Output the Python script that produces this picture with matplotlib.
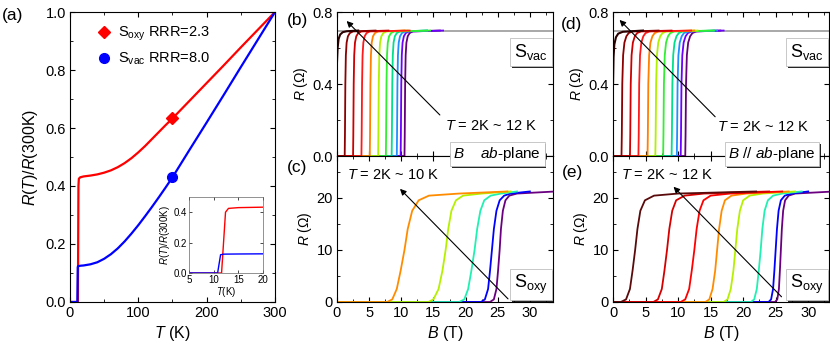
import matplotlib
matplotlib.use("Agg")
import matplotlib.pyplot as plt
import matplotlib.patheffects as pe
from matplotlib.lines import Line2D
from matplotlib.ticker import MultipleLocator, FormatStrFormatter

plt.rcParams['font.family'] = ['Liberation Sans', 'DejaVu Sans']
plt.rcParams['mathtext.fontset'] = 'custom'
plt.rcParams['mathtext.rm'] = 'Liberation Sans'
plt.rcParams['mathtext.it'] = 'Liberation Sans:italic'
plt.rcParams['axes.linewidth'] = 0.8

# ---------------- panel (a): R(T)/R(300K) ----------------
T_oxy = [0, 11.6, 12.0, 12.4, 13.0, 15, 20, 30, 40, 50, 60, 70, 80, 90, 100,
         110, 120, 130, 140, 150, 175, 200, 225, 250, 275, 300]
R_oxy = [0, 0, 0.20, 0.40, 0.425, 0.430, 0.433, 0.436, 0.440, 0.446, 0.454, 0.465,
         0.479, 0.496, 0.516, 0.538, 0.562, 0.586, 0.610, 0.633, 0.694, 0.755,
         0.816, 0.878, 0.939, 1.0]
T_vac = [0, 10.8, 11.1, 11.4, 12, 15, 20, 30, 40, 50, 60, 70, 80, 90, 100, 110,
         120, 130, 140, 150, 175, 200, 225, 250, 275, 300]
R_vac = [0, 0, 0.06, 0.12, 0.124, 0.125, 0.126, 0.130, 0.137, 0.149, 0.165, 0.185,
         0.209, 0.236, 0.265, 0.296, 0.328, 0.361, 0.395, 0.430, 0.525, 0.619,
         0.714, 0.810, 0.905, 1.0]
mark_T = 150
mark_oxy = 0.633
mark_vac = 0.430

# ---------------- panel (b): S_vac, B perp ab ----------------
b_colors = ['#2a0000', '#8b0000', '#cc0000', '#ff1a1a', '#ff8000', '#b0f000',
            '#33ee33', '#00e08a', '#1e90ff', '#6a00ff', '#660077']
b_2K_B = [0, 0.1, 0.25, 0.5, 0.9, 1.5, 3.3]
b_2K_R = [0.52, 0.60, 0.65, 0.675, 0.688, 0.693, 0.697]
b_levels = [0, 0, 0.12, 0.40, 0.56, 0.63, 0.665, 0.683, 0.692, 0.697]
b_B = [
    [0, 1.2, 1.24, 1.3, 1.38, 1.5, 1.7, 2.0, 2.5, 6.0],
    [0, 2.5, 2.54, 2.6, 2.68, 2.8, 3.0, 3.3, 3.8, 8.0],
    [0, 3.8, 3.84, 3.9, 3.98, 4.1, 4.3, 4.6, 5.1, 11.3],
    [0, 5.1, 5.14, 5.2, 5.28, 5.4, 5.6, 5.9, 6.4, 10.5],
    [0, 6.4, 6.44, 6.5, 6.58, 6.7, 6.9, 7.2, 7.7, 11.0],
    [0, 7.6, 7.64, 7.7, 7.78, 7.9, 8.1, 8.4, 8.9, 14.5],
    [0, 8.5, 8.54, 8.6, 8.68, 8.8, 9.0, 9.3, 9.8, 14.0],
    [0, 9.3, 9.34, 9.4, 9.48, 9.6, 9.8, 10.1, 10.6, 14.0],
    [0, 9.9, 9.94, 10.0, 10.08, 10.2, 10.4, 10.7, 11.2, 16.5],
    [0, 10.5, 10.54, 10.6, 10.68, 10.8, 11.0, 11.3, 11.8, 16.0],
]
normal_B = [0, 34]
normal_R = [0.697, 0.697]

# ---------------- panel (d): S_vac, B // ab ----------------
d_2K_B = [0, 0.08, 0.2, 0.45, 0.8, 1.5, 4.6]
d_2K_R = [0.40, 0.55, 0.62, 0.66, 0.68, 0.69, 0.697]
d_B = [
    [0, 1.3, 1.35, 1.42, 1.55, 1.75, 2.05, 2.4, 3.0, 7.0],
    [0, 2.6, 2.65, 2.72, 2.85, 3.05, 3.35, 3.7, 4.3, 9.0],
    [0, 3.9, 3.95, 4.02, 4.15, 4.35, 4.65, 5.0, 5.6, 12.0],
    [0, 5.3, 5.35, 5.42, 5.55, 5.75, 6.05, 6.4, 7.0, 12.5],
    [0, 6.5, 6.55, 6.62, 6.75, 6.95, 7.25, 7.6, 8.2, 13.0],
    [0, 7.7, 7.75, 7.82, 7.95, 8.15, 8.45, 8.8, 9.4, 15.5],
    [0, 9.0, 9.05, 9.12, 9.25, 9.45, 9.75, 10.1, 10.7, 15.5],
    [0, 9.8, 9.85, 9.92, 10.05, 10.25, 10.55, 10.9, 11.5, 16.0],
    [0, 10.4, 10.45, 10.52, 10.65, 10.85, 11.15, 11.5, 12.1, 17.0],
    [0, 11.1, 11.15, 11.22, 11.35, 11.55, 11.85, 12.2, 12.8, 16.5],
]

# ---------------- panel (c): S_oxy, B perp ab ----------------
c_colors = ['#ff8c00', '#b5f000', '#20f0b0', '#0000ff', '#6a0080']
c_levels = [0, 0, 0.5, 2.5, 6, 10, 14, 17.5, 19.5, 20.4, 20.8, 21.2]
c_B = [
    [0, 7.8, 8.6, 9.3, 9.9, 10.5, 11.0, 11.7, 12.7, 14.3, 19.0, 26.5],
    [0, 14.2, 15.0, 15.8, 16.4, 16.9, 17.3, 17.8, 18.5, 19.6, 22.5, 27.0],
    [0, 19.0, 19.8, 20.4, 20.9, 21.4, 21.8, 22.3, 22.9, 23.9, 25.5, 28.0],
    [0, 22.4, 23.0, 23.5, 23.8, 24.1, 24.4, 24.8, 25.3, 26.0, 27.0, 30.0],
    [0, 23.8, 24.4, 24.8, 25.05, 25.3, 25.5, 25.8, 26.2, 26.8, 28.0, 34.0],
]

# ---------------- panel (e): S_oxy, B // ab ----------------
e_colors = ['#5a0a0a', '#d40000', '#ff0000', '#ff8c00', '#b5f000', '#20f0b0',
            '#0000ff', '#6a0080']
e_B = [
    [0, 1.2, 2.0, 2.6, 3.0, 3.4, 3.75, 4.2, 4.9, 6.3, 10.0, 22.0],
    [0, 6.2, 6.9, 7.5, 7.9, 8.3, 8.65, 9.1, 9.7, 11.0, 14.0, 24.0],
    [0, 10.4, 11.1, 11.7, 12.1, 12.5, 12.85, 13.3, 13.9, 15.0, 18.0, 26.0],
    [0, 14.2, 14.8, 15.3, 15.7, 16.0, 16.3, 16.7, 17.2, 18.2, 20.5, 27.0],
    [0, 17.0, 17.6, 18.1, 18.5, 18.8, 19.1, 19.5, 20.0, 21.0, 23.0, 28.0],
    [0, 21.2, 21.7, 22.1, 22.4, 22.7, 22.95, 23.3, 23.8, 24.6, 26.0, 29.0],
    [0, 23.9, 24.3, 24.6, 24.8, 25.0, 25.2, 25.45, 25.8, 26.4, 27.5, 30.0],
    [0, 24.9, 25.25, 25.5, 25.65, 25.8, 25.95, 26.15, 26.45, 27.0, 28.0, 34.0],
]

# arrows (tail, head) in data units
b_arrow = [(16.0, 0.228), (1.5, 0.75)]
d_arrow = [(15.7, 0.218), (1.0, 0.756)]
c_arrow = [(26.6, 0.6), (9.8, 21.7)]
e_arrow = [(25.9, 1.0), (9.3, 22.1)]


def style(ax):
    ax.tick_params(direction='in', top=True, right=True, labelsize=10.5,
                   length=3.5, width=0.8, pad=3)
    ax.tick_params(which='minor', direction='in', top=True, right=True,
                   length=2, width=0.6)


def boxed(ax, x, y, s, trans=None, size=11, **kw):
    t = ax.text(x, y, s, transform=trans if trans is not None else ax.transAxes,
                fontsize=size, zorder=10,
                bbox=dict(boxstyle='square,pad=0.22', fc='white', ec='0.75', lw=0.6),
                **kw)
    t.get_bbox_patch().set_path_effects(
        [pe.withSimplePatchShadow(offset=(1.3, -1.3), shadow_rgbFace='k', alpha=0.85)])
    return t


def arrow(ax, ar):
    ax.annotate('', xy=ar[1], xytext=ar[0],
                arrowprops=dict(arrowstyle='-|>', color='k', lw=0.8,
                                mutation_scale=9, shrinkA=0, shrinkB=0))


fig = plt.figure(figsize=(8.3, 3.47), dpi=100)

# ---- (a)
ax = fig.add_axes([0.0843, 0.1297, 0.247, 0.8357])
ax.plot(T_oxy, R_oxy, color='red', lw=1.6)
ax.plot(T_vac, R_vac, color='blue', lw=1.6)
ax.plot([mark_T], [mark_oxy], 'D', color='red', ms=6)
ax.plot([mark_T], [mark_vac], 'o', color='blue', ms=7)
ax.set_xlim(0, 300)
ax.set_ylim(0, 1.0)
ax.xaxis.set_major_locator(MultipleLocator(100))
ax.xaxis.set_minor_locator(MultipleLocator(50))
ax.yaxis.set_major_locator(MultipleLocator(0.2))
ax.yaxis.set_minor_locator(MultipleLocator(0.1))
ax.yaxis.set_major_formatter(FormatStrFormatter('%.1f'))
style(ax)
ax.set_xlabel(r'$T$ (K)', fontsize=11.5, labelpad=3)
ax.set_ylabel(r'$R$($T$)/$R$(300K)', fontsize=11.5, labelpad=4)
handles = [Line2D([], [], color='red', marker='D', ls='none', ms=6),
           Line2D([], [], color='blue', marker='o', ls='none', ms=7)]
ax.legend(handles, [r'S$_{\rm oxy}$ RRR=2.3', r'S$_{\rm vac}$ RRR=8.0'],
          loc='upper left', bbox_to_anchor=(0.05, 1.0), frameon=False,
          fontsize=10.5, handletextpad=0.2, labelspacing=0.5, handlelength=1.5)

# inset
ins = fig.add_axes([0.2277, 0.2133, 0.0892, 0.219])
ins.plot(T_oxy, R_oxy, color='red', lw=1.0)
ins.plot(T_vac, R_vac, color='blue', lw=1.0)
ins.set_xlim(5, 20)
ins.set_ylim(0, 0.5)
ins.xaxis.set_major_locator(MultipleLocator(5))
ins.yaxis.set_major_locator(MultipleLocator(0.2))
ins.yaxis.set_major_formatter(FormatStrFormatter('%.1f'))
ins.tick_params(direction='in', top=True, right=True, labelsize=7, length=2,
                width=0.5, pad=1.5)
for s in ins.spines.values():
    s.set_linewidth(0.5)
    s.set_color('0.4')
ins.set_xlabel(r'$T$(K)', fontsize=7, labelpad=0)
ins.set_ylabel(r'$R$($T$)/$R$(300K)', fontsize=7, labelpad=1)

# ---- (b)
ax = fig.add_axes([0.406, 0.5504, 0.2603, 0.415])
ax.plot(normal_B, normal_R, color='0.6', lw=1.2)
for i in range(len(b_B) - 1, -1, -1):
    ax.plot(b_B[i], b_levels, color=b_colors[i + 1], lw=1.3)
ax.plot(b_2K_B, b_2K_R, color=b_colors[0], lw=1.5)
ax.set_xlim(0, 33.6)
ax.set_ylim(0, 0.8)
ax.xaxis.set_major_locator(MultipleLocator(5))
ax.xaxis.set_minor_locator(MultipleLocator(2.5))
ax.yaxis.set_major_locator(MultipleLocator(0.4))
ax.yaxis.set_minor_locator(MultipleLocator(0.2))
ax.yaxis.set_major_formatter(FormatStrFormatter('%.1f'))
ax.set_xticklabels([])
style(ax)
ax.set_ylabel(r'$R$ ($\Omega$)', fontsize=10, labelpad=2)
arrow(ax, b_arrow)
ax.text(16.8, 0.167, r'$T$ = 2K ~ 12 K', fontsize=10.5, va='center', ha='left')
boxed(ax, 0.975, 0.72, r'S$_{\rm vac}$', size=13, ha='right', va='center')

# ---- (c)
ax = fig.add_axes([0.406, 0.1297, 0.2603, 0.4207])
for i in range(len(c_B) - 1, -1, -1):
    ax.plot(c_B[i], c_levels, color=c_colors[i], lw=1.3)
ax.set_xlim(0, 33.6)
ax.set_ylim(0, 28)
ax.xaxis.set_major_locator(MultipleLocator(5))
ax.xaxis.set_minor_locator(MultipleLocator(2.5))
ax.yaxis.set_major_locator(MultipleLocator(10))
ax.yaxis.set_minor_locator(MultipleLocator(5))
style(ax)
ax.set_xlabel(r'$B$ (T)', fontsize=11.5, labelpad=3)
ax.set_ylabel(r'$R$ ($\Omega$)', fontsize=10, labelpad=2)
arrow(ax, c_arrow)
ax.text(1.5, 24.3, r'$T$ = 2K ~ 10 K', fontsize=10.5, va='center', ha='left')
boxed(ax, 0.975, 0.12, r'S$_{\rm oxy}$', size=13, ha='right', va='center')

# ---- (d)
ax = fig.add_axes([0.7386, 0.5504, 0.2602, 0.415])
ax.plot(normal_B, normal_R, color='0.6', lw=1.2)
for i in range(len(d_B) - 1, -1, -1):
    ax.plot(d_B[i], b_levels, color=b_colors[i + 1], lw=1.3)
ax.plot(d_2K_B, d_2K_R, color=b_colors[0], lw=1.5)
ax.set_xlim(0, 33.2)
ax.set_ylim(0, 0.8)
ax.xaxis.set_major_locator(MultipleLocator(5))
ax.xaxis.set_minor_locator(MultipleLocator(2.5))
ax.yaxis.set_major_locator(MultipleLocator(0.4))
ax.yaxis.set_minor_locator(MultipleLocator(0.2))
ax.yaxis.set_major_formatter(FormatStrFormatter('%.1f'))
ax.set_xticklabels([])
style(ax)
ax.set_ylabel(r'$R$ ($\Omega$)', fontsize=10, labelpad=2)
arrow(ax, d_arrow)
ax.text(15.95, 0.163, r'$T$ = 2K ~ 12 K', fontsize=10.5, va='center', ha='left')
boxed(ax, 0.975, 0.72, r'S$_{\rm vac}$', size=13, ha='right', va='center')

# ---- (e)
ax = fig.add_axes([0.7386, 0.1297, 0.2602, 0.4207])
for i in range(len(e_B) - 1, -1, -1):
    ax.plot(e_B[i], c_levels, color=e_colors[i], lw=1.3)
ax.set_xlim(0, 33.2)
ax.set_ylim(0, 28)
ax.xaxis.set_major_locator(MultipleLocator(5))
ax.xaxis.set_minor_locator(MultipleLocator(2.5))
ax.yaxis.set_major_locator(MultipleLocator(10))
ax.yaxis.set_minor_locator(MultipleLocator(5))
style(ax)
ax.set_xlabel(r'$B$ (T)', fontsize=11.5, labelpad=3)
ax.set_ylabel(r'$R$ ($\Omega$)', fontsize=10, labelpad=2)
arrow(ax, e_arrow)
ax.text(1.3, 24.3, r'$T$ = 2K ~ 12 K', fontsize=10.5, va='center', ha='left')
boxed(ax, 0.975, 0.12, r'S$_{\rm oxy}$', size=13, ha='right', va='center')

# plane boxes straddling the b/c and d/e boundary
boxed(fig, 0.652, 0.556, r'$B$    $ab$-plane', trans=fig.transFigure, ha='right', va='center')
boxed(fig, 0.983, 0.556, r'$B$ // $ab$-plane', trans=fig.transFigure, ha='right', va='center')

# panel letters
fig.text(0.002, 0.955, '(a)', fontsize=12.5, va='center')
fig.text(0.346, 0.94, '(b)', fontsize=12.5, va='center')
fig.text(0.346, 0.516, '(c)', fontsize=12.5, va='center')
fig.text(0.676, 0.928, '(d)', fontsize=12.5, va='center')
fig.text(0.677, 0.504, '(e)', fontsize=12.5, va='center')

fig.savefig('out.png', dpi=100)
